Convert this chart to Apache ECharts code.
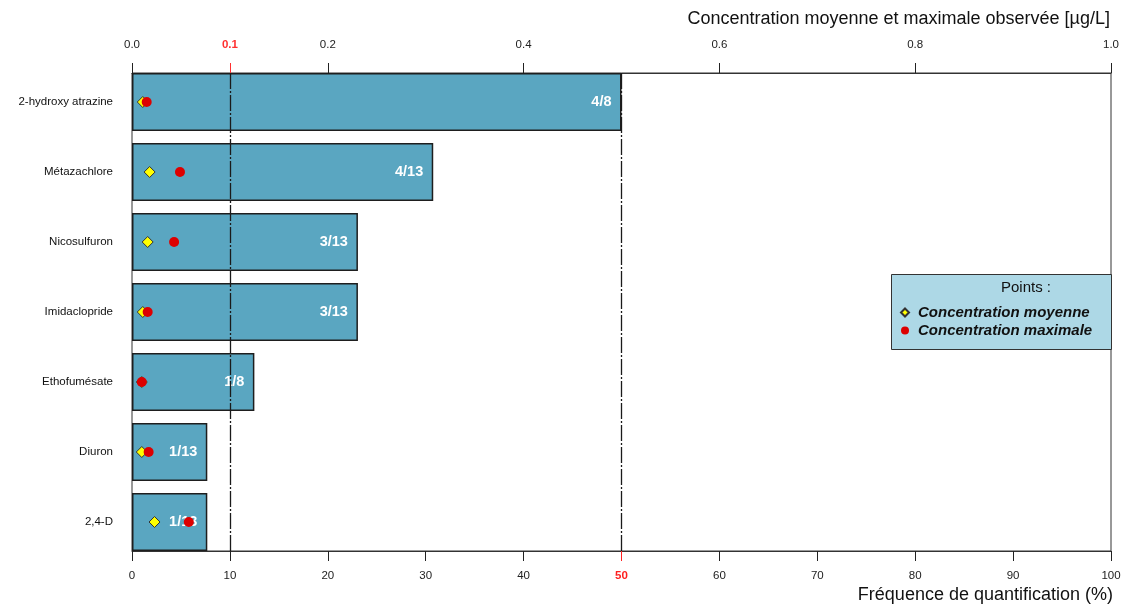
<!DOCTYPE html>
<html>
<head>
<meta charset="utf-8">
<script src="https://cdn.jsdelivr.net/npm/echarts@6/dist/echarts.min.js"></script>
<style>
  html, body { margin: 0; padding: 0; background: #fff; }
  #chart { width: 1125px; height: 609px; }
</style>
</head>
<body>
<div id="chart"></div>
<script>
// Substances, from top to bottom
const substances = ['2-hydroxy atrazine', 'Métazachlore', 'Nicosulfuron', 'Imidaclopride', 'Ethofumésate', 'Diuron', '2,4-D'];
// Number of samples with quantification / number of samples analysed
const nQuantified = [4, 4, 3, 3, 1, 1, 1];
const nAnalysed = [8, 13, 13, 13, 8, 13, 13];
// Concentrations (µg/L)
const concMean = [0.011, 0.018, 0.016, 0.011, 0.010, 0.010, 0.023];
const concMax = [0.015, 0.049, 0.043, 0.016, 0.010, 0.017, 0.058];
// Axis ticks
const freqTicks = [0, 10, 20, 30, 40, 60, 70, 80, 90, 100];
const freqThreshold = [50];
const concTicks = [0, 0.2, 0.4, 0.6, 0.8, 1.0];
const concThreshold = [0.1];

const frequency = nQuantified.map((n, i) => n / nAnalysed[i] * 100);
const fractionLabels = nQuantified.map((n, i) => n + '/' + nAnalysed[i]);

const FONT = '"Liberation Sans", Arial, sans-serif';
const NARROW = '"Liberation Sans Narrow", "Liberation Sans", Arial, sans-serif';

const L = 132, R = 14;
const chart = echarts.init(document.getElementById('chart'), null, { renderer: 'canvas' });

function hiddenX(gridIndex, min, max) {
  return { type: 'value', gridIndex, min, max, show: false };
}
function labelledX(gridIndex, position, min, max, values, color, bold, showLine, margin, fmt) {
  return {
    type: 'value', gridIndex, position, min, max,
    splitLine: { show: false },
    axisLine: { show: showLine, lineStyle: { color: '#333', width: 1 } },
    axisTick: { show: true, customValues: values, length: 10, lineStyle: { color: color, width: 1 } },
    axisLabel: {
      customValues: values, margin: margin, color: color,
      fontFamily: NARROW, fontSize: 11.5, fontWeight: bold ? 'bold' : 'normal',
      formatter: fmt
    }
  };
}

const option = {
  animation: false,
  backgroundColor: '#fff',
  grid: [
    { left: L, right: R, top: 67, bottom: 52 },
    { left: L, right: R, top: 73, bottom: 58, show: true, borderColor: '#333', borderWidth: 1, backgroundColor: 'transparent' }
  ],
  xAxis: [
    hiddenX(0, 0, 100),
    hiddenX(0, 0, 1),
    labelledX(1, 'bottom', 0, 100, freqTicks, '#222', false, true, 19, v => String(v)),
    labelledX(1, 'bottom', 0, 100, freqThreshold, '#ff2020', true, false, 19, v => String(v)),
    labelledX(1, 'top', 0, 1, concTicks, '#222', false, true, 22, v => Number(v).toFixed(1)),
    labelledX(1, 'top', 0, 1, concThreshold, '#ff3030', true, false, 22, v => Number(v).toFixed(1))
  ],
  yAxis: [
    {
      type: 'category', gridIndex: 0, inverse: true, data: substances,
      axisLine: { show: false }, axisTick: { show: false },
      axisLabel: { margin: 19, color: '#111', fontFamily: NARROW, fontSize: 11.5 }
    },
    { type: 'value', gridIndex: 1, min: 0, max: 1, show: false }
  ],
  legend: {
    orient: 'vertical', left: 900, top: 305, itemGap: 3,
    itemWidth: 8, itemHeight: 8, padding: 0,
    textStyle: { fontFamily: FONT, fontStyle: 'italic', fontWeight: 'bold', fontSize: 15, color: '#111', padding: [0, 0, 0, 4] },
    data: ['Concentration moyenne', 'Concentration maximale']
  },
  graphic: [
    {
      type: 'text', right: 1125 - 1110, top: 10,
      style: { text: 'Concentration moyenne et maximale observée [µg/L]', font: '18px ' + FONT, fill: '#111' }
    },
    {
      type: 'text', right: 1125 - 1113, top: 586,
      style: { text: 'Fréquence de quantification (%)', font: '18px ' + NARROW, fill: '#111' }
    },
    {
      type: 'rect', left: 891, top: 274, z: 10,
      shape: { width: 220, height: 75 },
      style: { fill: '#add8e6', stroke: '#333', lineWidth: 1 }
    },
    {
      type: 'text', left: 1001, top: 280, z: 11,
      style: { text: 'Points :', font: '15px ' + FONT, fill: '#111', align: 'center' }
    }
  ],
  series: [
    {
      type: 'bar', xAxisIndex: 0, yAxisIndex: 0,
      data: frequency, barCategoryGap: '17.1%',
      itemStyle: { color: '#5aa6c1', borderColor: '#1e1e1e', borderWidth: 1.5 },
      label: {
        show: true, position: 'insideRight', distance: 10,
        color: '#fff', fontFamily: FONT, fontWeight: 'bold', fontSize: 14.5,
        formatter: p => fractionLabels[p.dataIndex]
      },
      z: 2
    },
    {
      type: 'line', xAxisIndex: 2, yAxisIndex: 1, data: [], z: 5,
      markLine: {
        silent: true, symbol: 'none', label: { show: false },
        lineStyle: { color: '#1a1a1a', width: 1.3, type: [16, 2, 2, 2] },
        data: [{ xAxis: 10 }, { xAxis: 50 }]
      }
    },
    {
      name: 'Concentration moyenne', type: 'scatter', xAxisIndex: 1, yAxisIndex: 0,
      data: concMean.map((v, i) => [v, i]),
      symbol: 'diamond', symbolSize: [11, 11],
      itemStyle: { color: '#ffff00', borderColor: '#333', borderWidth: 1, opacity: 1 },
      z: 6
    },
    {
      name: 'Concentration maximale', type: 'scatter', xAxisIndex: 1, yAxisIndex: 0,
      data: concMax.map((v, i) => [v, i]),
      symbol: 'circle', symbolSize: 10,
      itemStyle: { color: '#dd0000', opacity: 1 },
      z: 7
    }
  ]
};
option.legend.z = 12;
chart.setOption(option);
</script>
</body>
</html>
